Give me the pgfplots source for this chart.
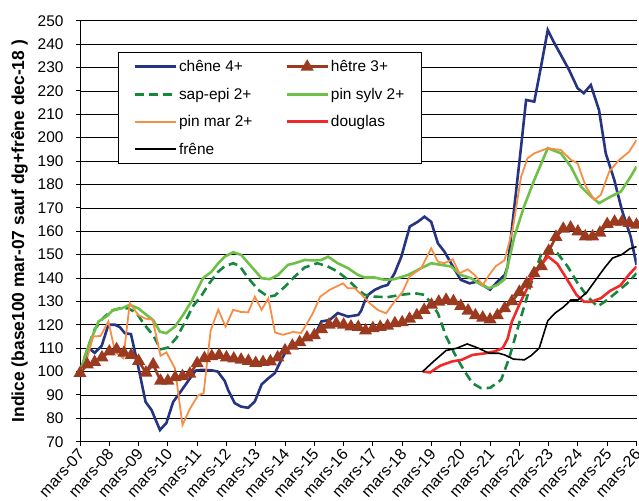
\documentclass[border=0pt]{standalone}
\usepackage{fontspec}
\setmainfont{Liberation Sans}
\usepackage{pgfplots}
\pgfplotsset{compat=1.18}

\definecolor{chene}{RGB}{38,52,130}
\definecolor{hetre}{RGB}{155,58,30}
\definecolor{sapepi}{RGB}{22,135,62}
\definecolor{pinsylv}{RGB}{110,192,70}
\definecolor{pinmar}{RGB}{246,142,70}
\definecolor{douglas}{RGB}{240,42,42}

\begin{document}
\begin{tikzpicture}
% page = axis box plus margins, as in the reference (labels cut at the bottom)
\useasboundingbox (-80bp,-59.3bp) rectangle (559bp,441.7bp);
\clip (-80bp,-59.3bp) rectangle (559bp,441.7bp);
\begin{axis}[
  name=ax, at={(0,0)}, anchor=south west,
  width=556.5bp, height=421bp, scale only axis,
  xmin=0, xmax=19, ymin=70, ymax=250,
  xtick={0,...,19},
  xticklabels={mars-07,mars-08,mars-09,mars-10,mars-11,mars-12,mars-13,mars-14,mars-15,mars-16,mars-17,mars-18,mars-19,mars-20,mars-21,mars-22,mars-23,mars-24,mars-25,mars-26},
  ytick={70,80,...,250},
  axis x line*=bottom, axis y line*=left,
  tick align=outside, major tick length=4bp,
  ymajorgrids, grid style={black, line width=0.6bp},
  axis line style={black, line width=0.9bp},
  tick style={black, line width=0.9bp},
  ticklabel style={font=\fontsize{15.5}{15.5}\selectfont},
  /pgf/number format/assume math mode=true,
  xticklabel style={xshift=-3bp, rotate=48, anchor=north east, inner sep=1bp, font=\fontsize{16}{16}\selectfont},
  yticklabel style={xshift=-9bp},
  legend image code/.code={\draw[mark repeat=2,mark phase=2] plot coordinates {(0bp,0bp) (20.5bp,0bp) (41bp,0bp)};},
  legend cell align=left,
  legend style={at={(rel axis cs:0.0683,0.9256)}, anchor=north west,
    draw=black, line width=0.8bp, fill=white, legend columns=2,
    font=\fontsize{15.5}{15.5}\selectfont, row sep=10.8bp,
    inner xsep=15bp, inner ysep=6bp,
    /tikz/every even column/.append style={column sep=31bp}},
]
\addplot[chene, line width=2.6bp] coordinates {
(0,100) (0.3,110) (0.5,108) (0.74,111) (0.97,120) (1.2,120) (1.36,119) (1.53,116.4)
(1.74,116) (1.99,102) (2.24,87) (2.44,83.6) (2.73,75) (2.95,78) (3.18,87) (3.47,92)
(3.75,97) (3.95,100.4) (4.15,100.7) (4.5,100.5) (4.7,100) (4.94,96) (5.06,92) (5.28,86.5)
(5.5,85) (5.74,84.5) (5.97,87.2) (6.2,94.5) (6.42,97) (6.65,99.3) (6.875,105) (7.05,109)
(7.33,112) (7.67,113.5) (8.0,115) (8.24,121.4) (8.52,122) (8.8,125) (9.15,123.5) (9.5,124.2)
(9.6,126) (9.72,130) (9.84,132.8) (10.06,134.9) (10.3,136.3) (10.5,137) (10.74,142) (10.97,149.1)
(11.26,162) (11.53,164) (11.76,166.2) (11.99,164) (12.22,154.8) (12.44,151.3) (12.7,145.6) (13.0,139.2)
(13.3,137.7) (13.58,138.5) (13.75,137) (14.0,135) (14.26,138.5) (14.5,141.3) (14.6,144.9) (14.83,170.5)
(15.06,196.2) (15.23,216.1) (15.51,215.4) (15.74,230.4) (15.97,246) (16.2,240.3) (16.42,235.3) (16.7,228.9)
(16.99,221.1) (17.2,219) (17.44,222.5) (17.72,211.8) (17.95,193.3) (18.24,182) (18.5,169.1) (18.8,157.7)
(19.0,145.6)};
\addlegendentry{chêne 4+}
\addplot[hetre, line width=2.6bp, mark=triangle*, mark size=5bp, mark options={solid}] coordinates {
(0,99.3) (0.25,103) (0.5,104) (0.75,106) (1,108.5) (1.25,109.5) (1.5,108) (1.75,107)
(2,104.5) (2.25,99.5) (2.5,103) (2.75,96) (3,96) (3.25,97.5) (3.5,98) (3.75,99)
(4,103.5) (4.25,105.7) (4.5,106.5) (4.75,107) (5,106) (5.25,105.5) (5.5,105) (5.75,104.5)
(6,103.6) (6.25,104) (6.5,104.3) (6.75,106) (7,109) (7.25,111) (7.5,112.5) (7.75,114.5)
(8,115.5) (8.25,118) (8.5,120) (8.75,120.5) (9,120) (9.25,119.2) (9.5,119) (9.75,117.5)
(10,118.5) (10.25,119) (10.5,119.5) (10.75,120.6) (11,121) (11.25,122.5) (11.5,124) (11.75,126.3)
(12,128.5) (12.25,129.8) (12.5,130.6) (12.75,130) (13,128) (13.25,126) (13.5,124) (13.75,123)
(14,122.2) (14.25,124) (14.5,127) (14.75,130) (15,134) (15.25,137.5) (15.5,142) (15.75,145)
(16,151.5) (16.25,157.5) (16.5,161) (16.75,161.5) (17,159.8) (17.25,157.7) (17.5,157.7) (17.75,159.3)
(18,163) (18.25,164) (18.5,164) (18.75,163.5) (19,162.7)};
\addlegendentry{hêtre 3+}
\addplot[sapepi, line width=2.6bp, dash pattern=on 9bp off 5bp] coordinates {
(0,100) (0.28,110.7) (0.5,118) (0.8,123) (1.08,126) (1.36,127) (1.65,127) (1.93,125)
(2.2,120) (2.5,115.5) (2.75,109.5) (3.0,110.2) (3.3,114.5) (3.58,121) (3.86,128) (4.15,132.5)
(4.43,138) (4.72,142.7) (4.94,145) (5.23,146.3) (5.45,145.2) (5.74,140) (6.08,135) (6.42,132)
(6.65,132.5) (7.0,136.3) (7.33,140.6) (7.67,144.5) (8.1,146.3) (8.45,145) (8.8,142.7) (9.15,139.2)
(9.49,135) (9.72,132.8) (10.06,132) (10.5,131.8) (10.97,132.8) (11.42,133.5) (11.76,132.8) (11.99,129.2)
(12.22,124.9) (12.5,115) (12.78,107.8) (13.1,100.7) (13.4,95) (13.69,92.9) (14.0,93) (14.38,96.5)
(14.66,106) (15.0,121) (15.4,137.5) (15.74,150) (16.0,152.7) (16.3,150.6) (16.65,144.9) (16.99,137.8)
(17.33,132) (17.67,127.8) (18.0,130.6) (18.35,134.2) (18.69,137.8) (19.0,142)};
\addlegendentry{sap-epi 2+}
\addplot[pinsylv, line width=2.6bp] coordinates {
(0,100) (0.28,110.7) (0.63,121.4) (0.9,123.5) (1.14,126.4) (1.42,127) (1.7,128.5) (1.99,127)
(2.27,124.2) (2.5,122) (2.73,117) (2.95,116.4) (3.24,119.2) (3.52,124.2) (3.8,129.9) (4.2,139.9)
(4.49,142.7) (4.72,146.3) (4.94,149.1) (5.23,151) (5.5,149.9) (5.85,144.9) (6.2,139.9) (6.48,139.5)
(6.76,141.3) (7.1,145.6) (7.33,146.3) (7.67,147.7) (8.0,147.5) (8.24,147.7) (8.47,149.1) (8.8,146.3)
(9.15,144.2) (9.49,141.3) (9.72,140.2) (10.06,140.2) (10.4,139.2) (10.74,139.5) (11.2,141.3) (11.65,144.2)
(11.99,146.3) (12.33,145.6) (12.67,144.9) (13.0,141.3) (13.35,139.9) (13.69,137.1) (13.97,135.6) (14.26,137.1)
(14.5,139.5) (14.83,157.7) (15.16,170.5) (15.51,181.9) (15.97,195.5) (16.42,193.3) (16.76,187.6) (17.1,179.1)
(17.39,175.5) (17.72,172) (18.12,174.8) (18.47,177) (18.8,183.3) (19.0,187.6)};
\addlegendentry{pin sylv 2+}
\addplot[pinmar, line width=1.8bp] coordinates {
(0,100) (0.23,105) (0.45,115) (0.7,115.2) (0.97,121.4) (1.2,108.3) (1.48,105.7) (1.7,129.3)
(1.99,124.1) (2.24,122.6) (2.48,122.2) (2.75,106.7) (2.95,108.2) (3.24,101.4) (3.5,77.2) (3.75,84)
(4.03,89.8) (4.22,90.7) (4.46,117.5) (4.72,126.4) (4.97,119.2) (5.23,126.4) (5.48,125.5) (5.74,125.3)
(5.97,132) (6.2,126.4) (6.43,131.3) (6.66,116.7) (6.93,115.7) (7.27,116.9) (7.55,116.5) (7.75,120.6)
(7.95,124.9) (8.2,132) (8.52,134.9) (8.98,137.7) (9.15,135.6) (9.38,135.6) (9.6,133) (9.89,129.2)
(10.17,126.3) (10.45,124.9) (10.74,129.9) (11.02,134.2) (11.25,140.6) (11.65,144.2) (11.99,152.7) (12.22,147)
(12.44,146.3) (12.73,148) (12.95,142) (13.24,143.7) (13.47,141.3) (13.75,137) (13.97,141.3) (14.2,145.1)
(14.49,147.5) (14.77,160.6) (15.06,183.3) (15.28,191.2) (15.51,193.3) (15.97,195.5) (16.42,194.7) (16.76,190.5)
(16.99,189) (17.27,179.1) (17.56,173.4) (17.78,175.5) (18.07,185.5) (18.41,190.5) (18.75,194) (19.0,199)};
\addlegendentry{pin mar 2+}
\addplot[douglas, line width=2.6bp] coordinates {
(11.7,100) (11.95,99.6) (12.3,102.5) (12.7,104.3) (13.03,105) (13.4,107.1) (13.85,107.8) (14.15,108.6)
(14.43,110) (14.6,114) (14.75,121.5) (15.05,130) (15.4,139) (15.7,145) (15.98,149.2) (16.3,146)
(16.65,139) (16.95,132.8) (17.2,129.9) (17.45,129.8) (17.78,131.3) (18.1,134.5) (18.45,136.8) (18.75,141.5)
(19.0,144.9)};
\addlegendentry{douglas}
\addplot[black, line width=1.6bp] coordinates {
(11.7,100) (12.07,104.3) (12.5,109) (12.87,110) (13.22,111.8) (13.6,110) (13.97,107.8) (14.3,107.8)
(14.5,107.1) (14.8,105.3) (15.17,105) (15.4,106.8) (15.68,110) (15.97,121.7) (16.22,125) (16.5,127.5)
(16.76,130.6) (17.0,130.6) (17.3,133.8) (17.61,139.2) (17.92,144.5) (18.18,148.5) (18.5,150) (18.77,152.5)
(19.0,153.4)};
\addlegendentry{frêne}
\end{axis}
\node[rotate=90, font=\bfseries\fontsize{17.5}{17.5}\selectfont] at ([xshift=-60.5bp]ax.west)
  {Indice (base100 mar-07 sauf dg+frêne dec-18 )};
\end{tikzpicture}
\end{document}
